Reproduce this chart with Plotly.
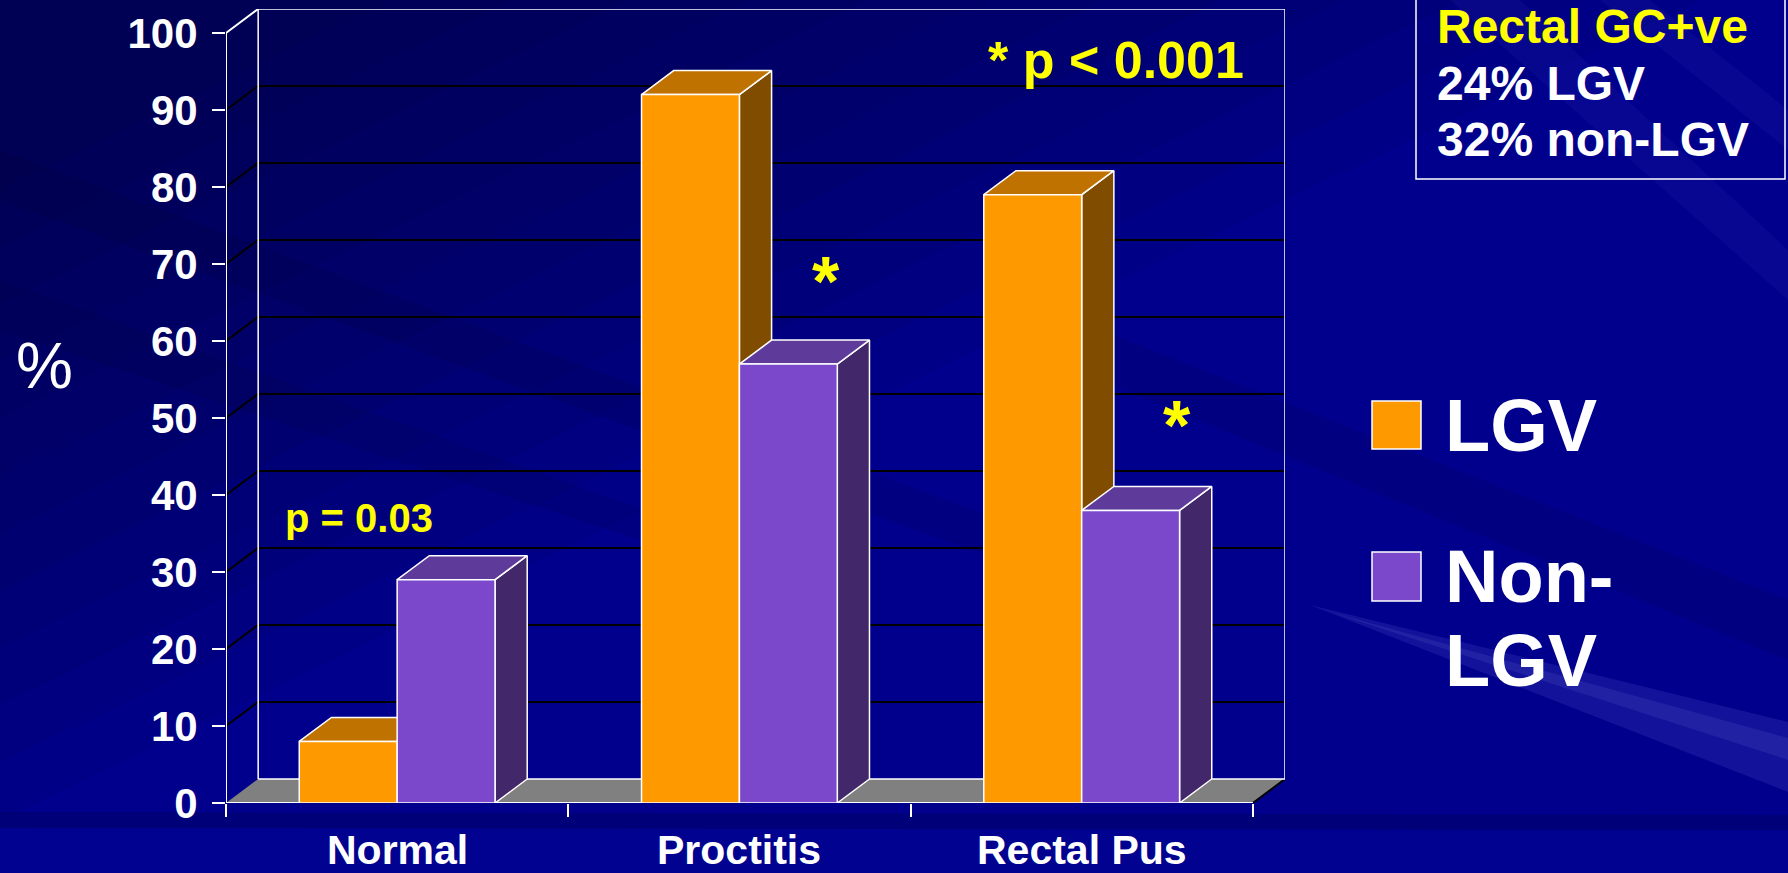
import plotly.graph_objects as go

# ---- data ----
categories = ["Normal", "Proctitis", "Rectal Pus"]
lgv = [8, 92, 79]
non_lgv = [29, 57, 38]
series_names = ["LGV", "Non-LGV"]
y_ticks = [0, 10, 20, 30, 40, 50, 60, 70, 80, 90, 100]

# ---- geometry of the pseudo-3D box (in axis units) ----
DEPTH_X = 0.094      # horizontal shift of the back wall
DEPTH_Y = 3.12       # vertical shift of the back wall
BAR_W = 0.286        # width of one bar
N_CAT = len(categories)
Y_MAX = 100

W, H = 1788, 873
M_L, M_R, M_T, M_B = 226, 503, 9, 70
PLOT_W = W - M_L - M_R
PLOT_H = H - M_T - M_B

FONT = "Arial, 'Liberation Sans', sans-serif"

FACE = {
    "LGV": ("#FF9900", "#C07200", "#7F4C00"),       # front, top, side
    "Non-LGV": ("#7B48CC", "#5E3A9B", "#42276A"),
}


def px(x, y):
    """Pixel position on the page -> paper coordinates."""
    return (x - M_L) / PLOT_W, (H - M_B - y) / PLOT_H


fig = go.Figure()


def poly(xs, ys, fill, line="white", lw=1.5):
    fig.add_trace(go.Scatter(
        x=xs, y=ys, mode="lines", fill="toself", fillcolor=fill,
        line=dict(color=line, width=lw), hoverinfo="skip", showlegend=False))


def lines(xs, ys, color, lw):
    fig.add_trace(go.Scatter(
        x=xs, y=ys, mode="lines", line=dict(color=color, width=lw),
        hoverinfo="skip", showlegend=False))


# floor
x_end = N_CAT
poly([0, x_end, x_end + DEPTH_X, DEPTH_X, 0], [0, 0, DEPTH_Y, DEPTH_Y, 0],
     "#808080", line="rgba(0,0,0,0)", lw=0)
lines([x_end, x_end + DEPTH_X], [0, DEPTH_Y], "black", 2)

# gridlines on the side and back walls
gx, gy = [], []
for v in y_ticks[1:-1]:
    gx += [0, DEPTH_X, x_end + DEPTH_X, None]
    gy += [v, v + DEPTH_Y, v + DEPTH_Y, None]
lines(gx, gy, "black", 2)

# back wall frame
lines([DEPTH_X, DEPTH_X, x_end + DEPTH_X, x_end + DEPTH_X, DEPTH_X],
      [DEPTH_Y, Y_MAX + DEPTH_Y, Y_MAX + DEPTH_Y, DEPTH_Y, DEPTH_Y], "white", 1.5)
# front value axis with its top edge
lines([0, 0, DEPTH_X], [0, Y_MAX, Y_MAX + DEPTH_Y], "white", 2)
# front edge of the floor
lines([0, x_end], [0, 0], "white", 2)

# bars: side, top, then front face of each column, left to right
for i, cat in enumerate(categories):
    centre = i + 0.5
    for k, (name, vals) in enumerate(zip(series_names, [lgv, non_lgv])):
        v = vals[i]
        x0 = centre - BAR_W + k * BAR_W
        x1 = x0 + BAR_W
        front, top, side = FACE[name]
        poly([x1, x1 + DEPTH_X, x1 + DEPTH_X, x1, x1],
             [0, DEPTH_Y, v + DEPTH_Y, v, 0], side)
        poly([x0, x1, x1 + DEPTH_X, x0 + DEPTH_X, x0],
             [v, v, v + DEPTH_Y, v + DEPTH_Y, v], top)
        poly([x0, x1, x1, x0, x0], [0, 0, v, v, 0], front)

# ---- slide background: soft diagonal shading and light streaks ----
shapes = []


def band(points, color):
    pts = [px(x, y) for x, y in points]
    path = "M " + " L ".join(f"{a:.4f},{b:.4f}" for a, b in pts) + " Z"
    shapes.append(dict(type="path", path=path, xref="paper", yref="paper",
                       fillcolor=color, line=dict(width=0), layer="below"))


# darker towards the top-left corner, built from stacked translucent wedges
for k in range(12):
    reach = 1.0 - k * 0.07
    band([(0, 0), (1700 * reach, 0), (0, 820 * reach)], "rgba(0,0,40,0.055)")
# faint darker streaks running down to the right
band([(0, 150), (0, 200), (1000, 560), (1000, 520)], "rgba(0,0,40,0.12)")
band([(0, 280), (0, 330), (700, 560), (700, 530)], "rgba(0,0,40,0.10)")
band([(1100, 330), (1788, 600), (1788, 660), (1100, 380)], "rgba(0,0,40,0.12)")
# bottom strip under the category axis
band([(0, 812), (1788, 815), (1788, 830), (0, 828)], "rgba(0,0,40,0.18)")
band([(0, 828), (1788, 830), (1788, 873), (0, 873)], "rgba(30,30,200,0.07)")
# light beams on the right
band([(1310, 605), (1788, 722), (1788, 792)], "rgba(140,140,255,0.13)")
band([(1330, 612), (1788, 738), (1788, 760)], "rgba(170,170,255,0.10)")
band([(1450, 0), (1520, 0), (1788, 250), (1788, 300)], "rgba(120,120,255,0.06)")
band([(1600, 0), (1650, 0), (1788, 110), (1788, 150)], "rgba(120,120,255,0.06)")

# legend swatches and the note box
for y0, y1, name in [(401, 449, "LGV"), (552, 601, "Non-LGV")]:
    a0, b0 = px(1372, y1)
    a1, b1 = px(1421, y0)
    shapes.append(dict(type="rect", xref="paper", yref="paper",
                       x0=a0, y0=b0, x1=a1, y1=b1,
                       fillcolor=FACE[name][0], line=dict(color="white", width=1.5)))
a0, b0 = px(1416, 179)
a1, b1 = px(1785, -3)
shapes.append(dict(type="rect", xref="paper", yref="paper",
                   x0=a0, y0=b0, x1=a1, y1=b1,
                   fillcolor="rgba(0,0,0,0)", line=dict(color="white", width=1.5)))

# ---- text ----
annotations = []


def label(text, x, y, size, color="white", bold=True, xanchor="left"):
    ax, ay = px(x, y)
    annotations.append(dict(
        text=text, x=ax, y=ay, xref="paper", yref="paper",
        xanchor=xanchor, yanchor="middle", showarrow=False,
        font=dict(family=FONT, size=size, color=color,
                  weight="bold" if bold else "normal")))


for i, cat in enumerate(categories):
    annotations.append(dict(
        text=cat, x=i + 0.5, xref="x", y=px(0, 850)[1], yref="paper",
        xanchor="center", yanchor="middle", showarrow=False,
        font=dict(family=FONT, size=41, color="white", weight="bold")))

label("%", 44, 366, 64, bold=False, xanchor="center")
label("p = 0.03", 283, 518, 40, color="yellow")
label("* p < 0.001", 986, 60, 52, color="yellow")
label("*", 826, 282, 70, color="yellow", xanchor="center")
label("*", 1177, 426, 70, color="yellow", xanchor="center")
label("LGV", 1443, 425, 74)
label("Non-", 1443, 576, 74)
label("LGV", 1443, 660, 74)
label("Rectal GC+ve", 1435, 26, 48, color="yellow")
label("24% LGV", 1435, 83, 48)
label("32% non-LGV", 1435, 140, 48)

fig.update_layout(
    width=W, height=H,
    margin=dict(l=M_L, r=M_R, t=M_T, b=M_B, autoexpand=False),
    paper_bgcolor="#00008C",
    plot_bgcolor="rgba(0,0,0,0)",
    showlegend=False,
    shapes=shapes,
    annotations=annotations,
    xaxis=dict(range=[0, N_CAT + DEPTH_X], tickvals=list(range(N_CAT + 1)),
               showticklabels=False, ticks="outside", ticklen=13, tickwidth=2,
               tickcolor="white", showgrid=False, zeroline=False, showline=False,
               fixedrange=True),
    yaxis=dict(range=[0, Y_MAX + DEPTH_Y], tickvals=y_ticks,
               ticks="outside", ticklen=13, tickwidth=2, tickcolor="white",
               ticklabelstandoff=6,
               tickfont=dict(family=FONT, size=42, color="white", weight="bold"),
               showgrid=False, zeroline=False, showline=False, fixedrange=True),
)

fig.write_html("out.html", config={"displayModeBar": False})
